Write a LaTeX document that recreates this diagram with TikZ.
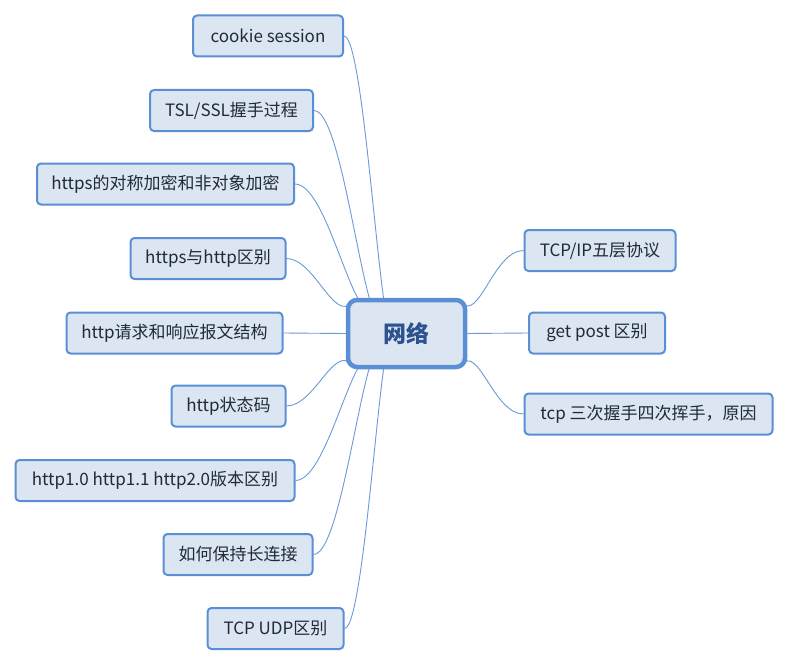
\documentclass[tikz,border=0pt]{standalone}
\usepackage{fontspec}
\newfontfamily\cjk{Noto Sans CJK SC}
\definecolor{boxfill}{HTML}{DCE6F2}
\definecolor{boxdraw}{HTML}{5A8FD6}
\definecolor{linecol}{HTML}{6A9AD8}
\definecolor{txt}{HTML}{1F2A3A}
\definecolor{roottxt}{HTML}{2E5190}
\pgfdeclarelayer{bg}
\pgfsetlayers{bg,main}
\begin{document}
\begin{tikzpicture}[x=1pt,y=-1pt,
  topic/.style={draw=boxdraw,fill=boxfill,line width=2pt,rounded corners=4pt,
    minimum height=41pt,inner sep=0pt,font=\cjk\fontsize{17}{20}\selectfont,text=txt},
  root/.style={draw=boxdraw,fill=boxfill,line width=4.5pt,rounded corners=9pt,
    minimum width=117pt,minimum height=67pt,inner sep=0pt,
    font=\cjk\bfseries\fontsize{23}{26}\selectfont,text=roottxt},
  conn/.style={draw=linecol,line width=0.9pt}]
\useasboundingbox (0,0) rectangle (789,666);
\node[root] (r) at (406.5,333.5) {网络};
% left topics
\node[topic,minimum width=150pt] (c1) at (268,36) {cookie session};
\node[topic,minimum width=163pt] (c2) at (231.5,110.5) {TSL/SSL握手过程};
\node[topic,minimum width=257pt] (c3) at (165.5,184) {https的对称加密和非对象加密};
\node[topic,minimum width=155pt] (c4) at (208,258.5) {https与http区别};
\node[topic,minimum width=216pt] (c5) at (174.5,333) {http请求和响应报文结构};
\node[topic,minimum width=114pt] (c6) at (228.5,406) {http状态码};
\node[topic,minimum width=279pt] (c7) at (155,480.5) {http1.0 http1.1 http2.0版本区别};
\node[topic,minimum width=149pt] (c8) at (238,554.5) {如何保持长连接};
\node[topic,minimum width=136pt] (c9) at (275.5,628.5) {TCP UDP区别};
% right topics
\node[topic,minimum width=151pt] (d1) at (600,250.5) {TCP/IP五层协议};
\node[topic,minimum width=136pt] (d2) at (597,333) {get post 区别};
\node[topic,minimum width=248pt] (d3) at (648.5,414) {tcp 三次握手四次挥手，原因};
% anchor points on root
\coordinate (t1) at (398,300);
\coordinate (t2) at (391,300);
\coordinate (t3) at (380,300);
\coordinate (t4) at (352,302);
\coordinate (b1) at (352,365);
\coordinate (b2) at (380,367);
\coordinate (b3) at (391,367);
\coordinate (b4) at (398,367);
\coordinate (rt) at (461,302);
\coordinate (rb) at (461,365);
% connectors
\begin{pgfonlayer}{bg}
\draw[conn] (c1.east) .. controls +(0:24) and +(95:150) .. (t1);
\draw[conn] (c2.east) .. controls +(0:34) and +(102:105) .. (t2);
\draw[conn] (c3.east) .. controls +(0:36) and +(112:60) .. (t3);
\draw[conn] (c4.east) .. controls +(0:28) and +(129:28) .. (t4);
\draw[conn] (c5.east) -- (r.west);
\draw[conn] (c6.east) .. controls +(0:28) and +(231:28) .. (b1);
\draw[conn] (c7.east) .. controls +(0:36) and +(248:60) .. (b2);
\draw[conn] (c8.east) .. controls +(0:34) and +(258:105) .. (b3);
\draw[conn] (c9.east) .. controls +(0:24) and +(265:150) .. (b4);
\draw[conn] (d1.west) .. controls +(180:30) and +(51:28) .. (rt);
\draw[conn] (d2.west) -- (r.east);
\draw[conn] (d3.west) .. controls +(180:30) and +(-51:28) .. (rb);
\end{pgfonlayer}
\end{tikzpicture}
\end{document}
